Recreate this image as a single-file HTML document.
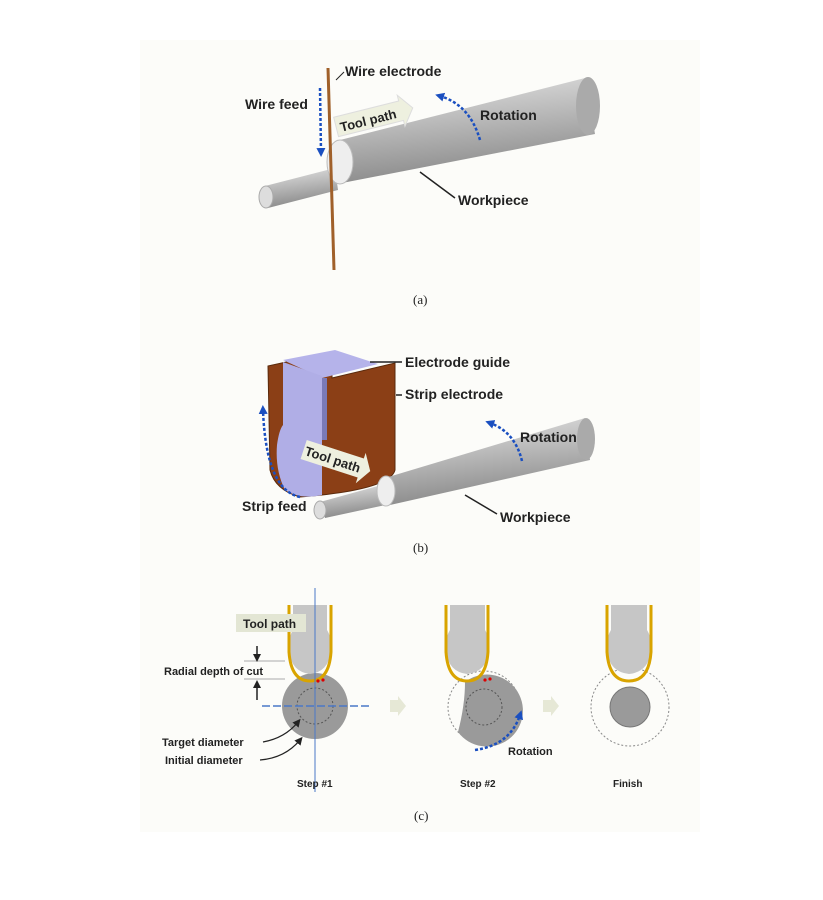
<!DOCTYPE html>
<html><head><meta charset="utf-8"><style>
html,body{margin:0;padding:0;background:#fff}
svg{display:block}
text{font-family:"Liberation Sans",sans-serif;font-weight:bold;font-size:14px;fill:#222}
.cap{font-family:"Liberation Serif",serif;font-weight:normal;font-size:13px}
</style></head><body>
<svg width="823" height="900" viewBox="0 0 823 900" xmlns="http://www.w3.org/2000/svg">
<defs>
<linearGradient id="cyl" x1="0" y1="0" x2="0.25" y2="1">
<stop offset="0" stop-color="#e6e6e6"/><stop offset="0.45" stop-color="#bdbdbd"/><stop offset="1" stop-color="#8a8a8a"/></linearGradient>
<marker id="ab" markerUnits="userSpaceOnUse" markerWidth="9" markerHeight="9" refX="4" refY="4.5" orient="auto"><path d="M0,0 L9,4.5 L0,9z" fill="#1a4fc0"/></marker>
<marker id="ak" markerUnits="userSpaceOnUse" markerWidth="8" markerHeight="8" refX="4" refY="4" orient="auto"><path d="M0,0 L8,4 L0,8z" fill="#222"/></marker>
</defs>
<rect x="140" y="40" width="560" height="792" fill="#fcfcf9"/>

<!-- (a) -->
<path d="M265,186 L335,168 L338,190 L268,208 Z" fill="url(#cyl)"/>
<ellipse cx="266" cy="197" rx="7" ry="11" fill="#ddd" stroke="#aaa"/>
<path d="M340,140 L585,78 L595,134 L342,183 Z" fill="url(#cyl)"/>
<ellipse cx="340" cy="162" rx="13" ry="22" fill="#eee" stroke="#bbb"/>
<ellipse cx="588" cy="106" rx="12" ry="29" fill="#aaa"/>
<line x1="328" y1="68" x2="334" y2="270" stroke="#a0602a" stroke-width="3"/>
<line x1="320" y1="88" x2="321" y2="152" stroke="#1a4fc0" stroke-width="2.5" stroke-dasharray="3,2" marker-end="url(#ab)"/>
<path d="M480,140 Q470,105 440,96" fill="none" stroke="#1a4fc0" stroke-width="2.5" stroke-dasharray="3,2" marker-end="url(#ab)"/>
<g transform="rotate(-14 372 118)"><path d="M335,108 L402,108 L402,102 L414,118 L402,134 L402,128 L335,128 Z" fill="#eef0df" stroke="#ddd"/><text x="339" y="124" style="font-size:13px">Tool path</text></g>
<text x="345" y="76">Wire electrode</text>
<text x="245" y="109">Wire feed</text>
<text x="480" y="120">Rotation</text>
<text x="458" y="205">Workpiece</text>
<line x1="420" y1="172" x2="455" y2="198" stroke="#222" stroke-width="1.5"/>
<line x1="336" y1="80" x2="344" y2="72" stroke="#222" stroke-width="1"/>
<text x="413" y="304" class="cap">(a)</text>

<!-- (b) -->
<path d="M268,366 L332,352 L332,378 L395,363 L395,470 Q390,490 300,497 Q275,490 270,470 Z" fill="#8b3f16" stroke="#5a2a0c"/>
<path d="M283,360 L335,350 L378,364 L322,378 Z" fill="#b5b3ea"/>
<path d="M283,362 L322,376 L322,495 Q300,500 285,490 Q275,470 277,445 Q279,430 283,425 Z" fill="#b0aee6"/>
<rect x="322" y="378" width="5" height="62" fill="#7a7ab8"/>
<path d="M320,502 L385,484 L390,504 L325,518 Z" fill="url(#cyl)"/>
<ellipse cx="320" cy="510" rx="6" ry="9" fill="#ddd" stroke="#aaa"/>
<path d="M385,478 L585,418 L590,460 L390,505 Z" fill="url(#cyl)"/>
<ellipse cx="386" cy="491" rx="9" ry="15" fill="#eee" stroke="#bbb"/>
<ellipse cx="586" cy="439" rx="9" ry="21" fill="#aaa"/>
<path d="M300,497 Q266,490 263,410" fill="none" stroke="#1a4fc0" stroke-width="2.5" stroke-dasharray="3,2" marker-end="url(#ab)"/>
<path d="M522,461 Q515,432 490,423" fill="none" stroke="#1a4fc0" stroke-width="2.5" stroke-dasharray="3,2" marker-end="url(#ab)"/>
<g transform="rotate(18 336 460)"><path d="M302,450 L362,450 L362,444 L372,460 L362,476 L362,470 L302,470 Z" fill="#eef0df"/><text x="304" y="465" style="font-size:13px">Tool path</text></g>
<line x1="370" y1="362" x2="402" y2="362" stroke="#222" stroke-width="1.5"/>
<line x1="396" y1="395" x2="402" y2="395" stroke="#222" stroke-width="1.5"/>
<text x="405" y="367">Electrode guide</text>
<text x="405" y="399">Strip electrode</text>
<text x="520" y="442">Rotation</text>
<text x="242" y="511">Strip feed</text>
<text x="500" y="522">Workpiece</text>
<line x1="465" y1="495" x2="497" y2="514" stroke="#222" stroke-width="1.5"/>
<text x="413" y="552" class="cap">(b)</text>

<!-- (c) step1 -->
<circle cx="315" cy="706" r="33" fill="#9a9a9a"/>
<circle cx="315" cy="706" r="18" fill="none" stroke="#555" stroke-dasharray="2,2"/>
<path d="M293,605 L327,605 L327,630 Q333,640 331,652 Q328,672 310,674 Q292,672 289,652 Q287,640 293,630 Z" fill="#c6c6c6"/>
<path d="M289,605 L289,652 Q291,681 310,681 Q329,681 331,652 L331,605" fill="none" stroke="#d9a400" stroke-width="3"/>
<line x1="315" y1="588" x2="315" y2="792" stroke="#4a78c8" stroke-width="1"/>
<line x1="262" y1="706" x2="370" y2="706" stroke="#4a78c8" stroke-width="1.5" stroke-dasharray="8,3"/>
<circle cx="318" cy="681" r="1.6" fill="#d00"/><circle cx="323" cy="680" r="1.6" fill="#d00"/>
<rect x="236" y="614" width="70" height="18" fill="#e3e6d4"/>
<text x="243" y="628" style="font-size:12px">Tool path</text>
<line x1="244" y1="661" x2="285" y2="661" stroke="#aaa"/>
<line x1="244" y1="679" x2="285" y2="679" stroke="#aaa"/>
<line x1="257" y1="646" x2="257" y2="658" stroke="#222" stroke-width="1.5" marker-end="url(#ak)"/>
<line x1="257" y1="700" x2="257" y2="684" stroke="#222" stroke-width="1.5" marker-end="url(#ak)"/>
<text x="164" y="675" style="font-size:11px">Radial depth of cut</text>
<text x="162" y="746" style="font-size:11px">Target diameter</text>
<text x="165" y="764" style="font-size:11px">Initial diameter</text>
<path d="M263,742 Q285,738 298,722" fill="none" stroke="#222" stroke-width="1.3" marker-end="url(#ak)"/>
<path d="M260,760 Q285,758 300,740" fill="none" stroke="#222" stroke-width="1.3" marker-end="url(#ak)"/>
<text x="297" y="787" style="font-size:10px">Step #1</text>
<path d="M390,700 L398,700 L398,696 L406,706 L398,716 L398,712 L390,712 Z" fill="#e6e8d6"/>

<!-- step2 -->
<circle cx="484" cy="707" r="36" fill="none" stroke="#888" stroke-dasharray="2,2"/>
<path d="M465,682 A36,36 0 1 1 458,732 Q465,705 465,682 Z" fill="#9a9a9a"/>
<circle cx="484" cy="707" r="18" fill="none" stroke="#555" stroke-dasharray="2,2"/>
<path d="M450,605 L485,605 L485,630 Q491,640 489,652 Q486,672 467,674 Q449,672 446,652 Q444,640 450,630 Z" fill="#c6c6c6"/>
<path d="M446,605 L446,652 Q448,681 467,681 Q486,681 488,652 L488,605" fill="none" stroke="#d9a400" stroke-width="3"/>
<circle cx="485" cy="680" r="1.6" fill="#d00"/><circle cx="490" cy="679" r="1.6" fill="#d00"/>
<path d="M475,750 Q510,745 520,715" fill="none" stroke="#1a4fc0" stroke-width="2.5" stroke-dasharray="3,2" marker-end="url(#ab)"/>
<text x="508" y="755" style="font-size:11px">Rotation</text>
<text x="460" y="787" style="font-size:10px">Step #2</text>
<path d="M543,700 L551,700 L551,696 L559,706 L551,716 L551,712 L543,712 Z" fill="#e6e8d6"/>

<!-- finish -->
<circle cx="630" cy="707" r="39" fill="none" stroke="#888" stroke-dasharray="2,2"/>
<circle cx="630" cy="707" r="20" fill="#9a9a9a" stroke="#777"/>
<path d="M611,605 L647,605 L647,630 Q653,640 651,652 Q648,672 629,674 Q610,672 607,652 Q605,640 611,630 Z" fill="#c6c6c6"/>
<path d="M607,605 L607,652 Q609,681 629,681 Q649,681 651,652 L651,605" fill="none" stroke="#d9a400" stroke-width="3"/>
<text x="613" y="787" style="font-size:10px">Finish</text>
<text x="414" y="820" class="cap">(c)</text>
</svg>
</body></html>
